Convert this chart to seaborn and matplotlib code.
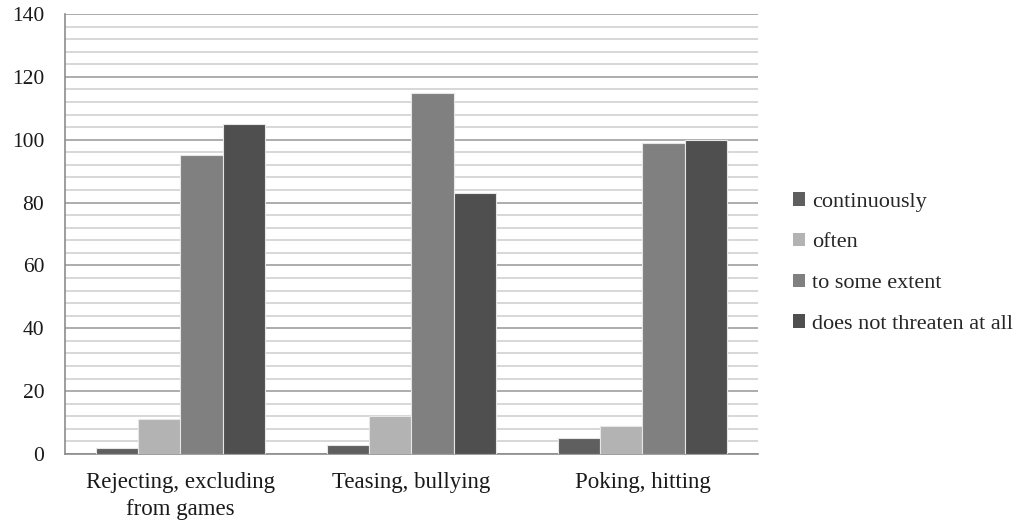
import matplotlib
matplotlib.use("Agg")
import matplotlib.pyplot as plt
import seaborn as sns
import pandas as pd
from matplotlib.patches import Patch
from matplotlib.ticker import MultipleLocator

categories = ["Rejecting, excluding\nfrom games", "Teasing, bullying", "Poking, hitting"]
series = ["continuously", "often", "to some extent", "does not threaten at all"]
continuously = [2, 3, 5]
often = [11, 12, 9]
to_some_extent = [95, 115, 99]
not_at_all = [105, 83, 100]
colors = ["#5f5f5f", "#b3b3b3", "#808080", "#4f4f4f"]

values = {
    "continuously": continuously,
    "often": often,
    "to some extent": to_some_extent,
    "does not threaten at all": not_at_all,
}
rows = []
for s in series:
    for c, v in zip(categories, values[s]):
        rows.append({"category": c, "series": s, "value": v})
df = pd.DataFrame(rows)

sns.set_style("white")
plt.rcParams["font.family"] = ["Liberation Serif", "DejaVu Serif"]

fig = plt.figure(figsize=(10.33, 5.24), dpi=100)
ax = fig.add_axes([65 / 1033, 1 - 454 / 524, (758 - 65) / 1033, (454 - 14) / 524])

sns.barplot(data=df, x="category", y="value", hue="series", hue_order=series,
            order=categories, palette=colors, width=0.73, gap=0,
            edgecolor="#e6e6e6", linewidth=0.8, ax=ax, legend=False, zorder=3)

ax.set_ylim(0, 140)
ax.yaxis.set_major_locator(MultipleLocator(20))
ax.yaxis.set_minor_locator(MultipleLocator(4))
ax.grid(which="major", axis="y", color="#a6a6a6", linewidth=1.3, zorder=0)
ax.grid(which="minor", axis="y", color="#d4d4d4", linewidth=1.3, zorder=0)
ax.grid(which="major", axis="x", visible=False)
ax.set_axisbelow(True)

for side in ["top", "right"]:
    ax.spines[side].set_visible(False)
for side in ["left", "bottom"]:
    ax.spines[side].set_color("#8c8c8c")
    ax.spines[side].set_linewidth(1.2)

ax.tick_params(axis="both", which="both", length=0, colors="#1a1a1a")
ax.tick_params(axis="y", labelsize=15.5, pad=15)
ax.tick_params(axis="x", labelsize=16.5, pad=13)
for lbl in ax.get_xticklabels():
    lbl.set_linespacing(1.35)
ax.set_xlabel("")
ax.set_ylabel("")

handles = [Patch(facecolor=c, edgecolor="none") for c in colors]
fig.legend(handles, series, loc="center left", bbox_to_anchor=(793 / 1033, 1 - 263 / 524),
           frameon=False, fontsize=16, handlelength=0.55, handleheight=0.55,
           handletextpad=0.3, labelspacing=0.95, borderaxespad=0, borderpad=0)

fig.savefig("out.png", dpi=100)
